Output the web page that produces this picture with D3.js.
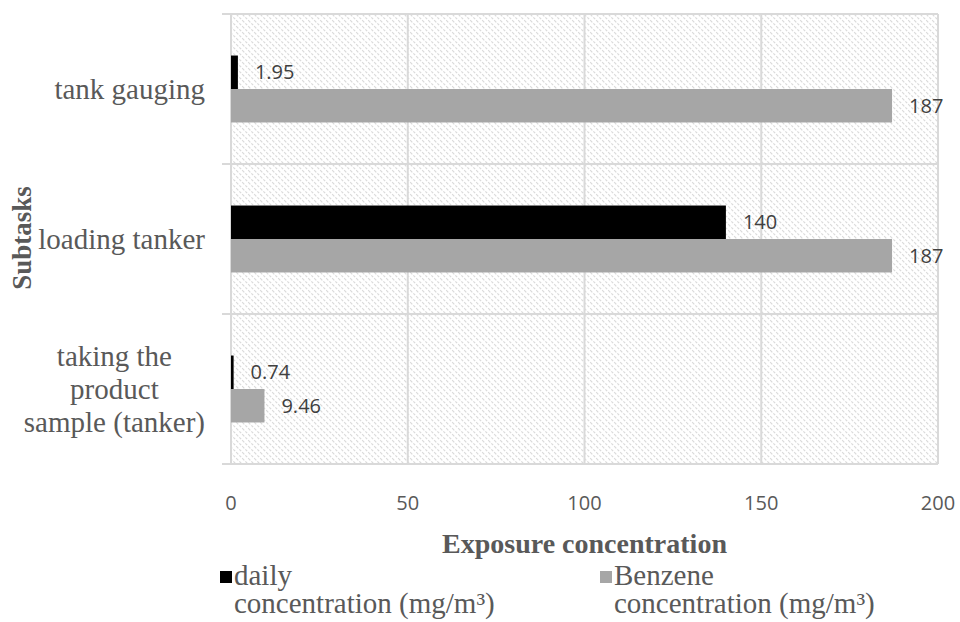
<!DOCTYPE html>
<html>
<head>
<meta charset="utf-8">
<script src="https://cdn.jsdelivr.net/npm/d3@7"></script>
<style>
  body { margin: 0; background: #fff; }
  svg { display: block; }
</style>
</head>
<body>
<svg class="chart" width="960" height="622"></svg>
<script>
// values
var categories = ['tank gauging', 'loading tanker', 'taking the product sample (tanker)'];
var categoryLines = [['tank gauging'], ['loading tanker'], ['taking the', 'product', 'sample (tanker)']];
var seriesNames = ['daily concentration (mg/m³)', 'Benzene concentration (mg/m³)'];
var legendLines = [['daily', 'concentration (mg/m³)'], ['Benzene', 'concentration (mg/m³)']];
var dailyValues = [1.95, 140, 0.74];
var benzeneValues = [187, 187, 9.46];
var xTicks = [0, 50, 100, 150, 200];

var colors = ['#000000', '#a6a6a6'];
var textGrey = '#595959';
var gridGrey = '#d9d9d9';
var serif = '"Liberation Serif", "Times New Roman", serif';
var sans = '"Open Sans", sans-serif';

var plotLeft = 231, plotRight = 938, plotTop = 14, plotBottom = 464;

var svg = d3.select('.chart');

// hatched plot-area fill (downward diagonal)
var defs = svg.append('defs');
var pat = defs.append('pattern')
    .attr('id', 'hatch')
    .attr('patternUnits', 'userSpaceOnUse')
    .attr('width', 6)
    .attr('height', 6);
pat.append('rect').attr('width', 6).attr('height', 6).attr('fill', '#fff');
pat.append('path')
    .attr('d', 'M-1,-1 L7,7 M-4,2 L1,7 M2,-4 L7,1')
    .attr('stroke', '#dadada')
    .attr('stroke-width', 1.2)
    .attr('stroke-dasharray', '3,1.5');

var x = d3.scaleLinear()
    .domain([0, 200])
    .range([plotLeft, plotRight]);

var y = d3.scaleBand()
    .domain(categories)
    .range([plotTop, plotBottom])
    .padding(0);

var ySub = d3.scaleBand()
    .domain(seriesNames)
    .range([0, y.bandwidth()])
    .paddingInner(0)
    .paddingOuter(1.24);

svg.append('rect')
    .attr('x', plotLeft)
    .attr('y', plotTop)
    .attr('width', plotRight - plotLeft)
    .attr('height', plotBottom - plotTop)
    .attr('fill', 'url(#hatch)');

// vertical gridlines
svg.append('g')
    .selectAll('line')
    .data(xTicks.slice(1))
    .enter().append('line')
    .attr('x1', d => x(d)).attr('x2', d => x(d))
    .attr('y1', plotTop).attr('y2', plotBottom)
    .attr('stroke', gridGrey)
    .attr('stroke-width', 2);

// category boundaries with small ticks to the left
var bounds = categories.map(c => y(c)).concat([plotBottom]);
svg.append('g')
    .selectAll('line')
    .data(bounds)
    .enter().append('line')
    .attr('x1', plotLeft - 9).attr('x2', plotRight)
    .attr('y1', d => d).attr('y2', d => d)
    .attr('stroke', gridGrey)
    .attr('stroke-width', 2);

// vertical axis line
svg.append('line')
    .attr('x1', plotLeft).attr('x2', plotLeft)
    .attr('y1', plotTop).attr('y2', plotBottom)
    .attr('stroke', gridGrey)
    .attr('stroke-width', 2);

// bars
var rows = categories.map((c, i) => ({
    cat: c,
    vals: [
        {name: seriesNames[0], value: dailyValues[i], idx: 0},
        {name: seriesNames[1], value: benzeneValues[i], idx: 1}
    ]
}));

var groups = svg.append('g')
    .selectAll('g')
    .data(rows)
    .enter().append('g')
    .attr('transform', d => `translate(0, ${y(d.cat)})`);

groups.selectAll('rect')
    .data(d => d.vals)
    .enter().append('rect')
    .attr('x', x(0))
    .attr('y', d => ySub(d.name))
    .attr('width', d => x(d.value) - x(0))
    .attr('height', ySub.bandwidth())
    .attr('fill', d => colors[d.idx]);

groups.selectAll('text')
    .data(d => d.vals)
    .enter().append('text')
    .attr('x', d => x(d.value) + 17)
    .attr('y', d => ySub(d.name) + ySub.bandwidth() / 2)
    .attr('dy', '0.35em')
    .style('font-family', sans)
    .style('font-size', '20px')
    .attr('fill', '#404040')
    .text(d => d.value);

// x tick labels
svg.append('g')
    .selectAll('text')
    .data(xTicks)
    .enter().append('text')
    .attr('x', d => x(d))
    .attr('y', 503)
    .attr('dy', '0.35em')
    .attr('text-anchor', 'middle')
    .style('font-family', sans)
    .style('font-size', '20px')
    .attr('fill', textGrey)
    .text(d => d);

// category labels, centred block with right edge at x = 205
var catLabels = svg.append('g')
    .selectAll('text')
    .data(categoryLines)
    .enter().append('text')
    .attr('text-anchor', 'middle')
    .style('font-family', serif)
    .style('font-size', '29px')
    .attr('fill', textGrey);

catLabels.each(function(lines, i) {
    var lineH = 33;
    var cy = y(categories[i]) + y.bandwidth() / 2;
    var t = d3.select(this);
    t.selectAll('tspan')
        .data(lines)
        .enter().append('tspan')
        .text(d => d);
    var maxW = d3.max(t.selectAll('tspan').nodes(), n => n.getComputedTextLength());
    var cx = 205 - maxW / 2;
    t.selectAll('tspan')
        .attr('x', cx)
        .attr('y', (d, j) => cy + (j - (lines.length - 1) / 2) * lineH)
        .attr('dy', '0.35em');
});

// axis titles
svg.append('text')
    .attr('x', (plotLeft + plotRight) / 2)
    .attr('y', 543)
    .attr('dy', '0.35em')
    .attr('text-anchor', 'middle')
    .style('font-family', serif)
    .style('font-size', '28px')
    .style('font-weight', 'bold')
    .attr('fill', textGrey)
    .text('Exposure concentration');

svg.append('text')
    .attr('transform', 'translate(22, 238) rotate(-90)')
    .attr('dy', '0.35em')
    .attr('text-anchor', 'middle')
    .style('font-family', serif)
    .style('font-size', '27px')
    .style('font-weight', 'bold')
    .attr('fill', textGrey)
    .text('Subtasks');

// legend
var legendX = [220, 600];
var legend = svg.append('g')
    .selectAll('g')
    .data(seriesNames)
    .enter().append('g')
    .attr('transform', (d, i) => `translate(${legendX[i]}, 571)`);

legend.append('rect')
    .attr('width', 12)
    .attr('height', 12)
    .attr('fill', (d, i) => colors[i]);

legend.append('text')
    .style('font-family', serif)
    .style('font-size', '29px')
    .attr('fill', textGrey)
    .selectAll('tspan')
    .data((d, i) => legendLines[i])
    .enter().append('tspan')
    .attr('x', 14)
    .attr('y', (d, j) => 14 + j * 28)
    .text(d => d);
</script>
</body>
</html>
